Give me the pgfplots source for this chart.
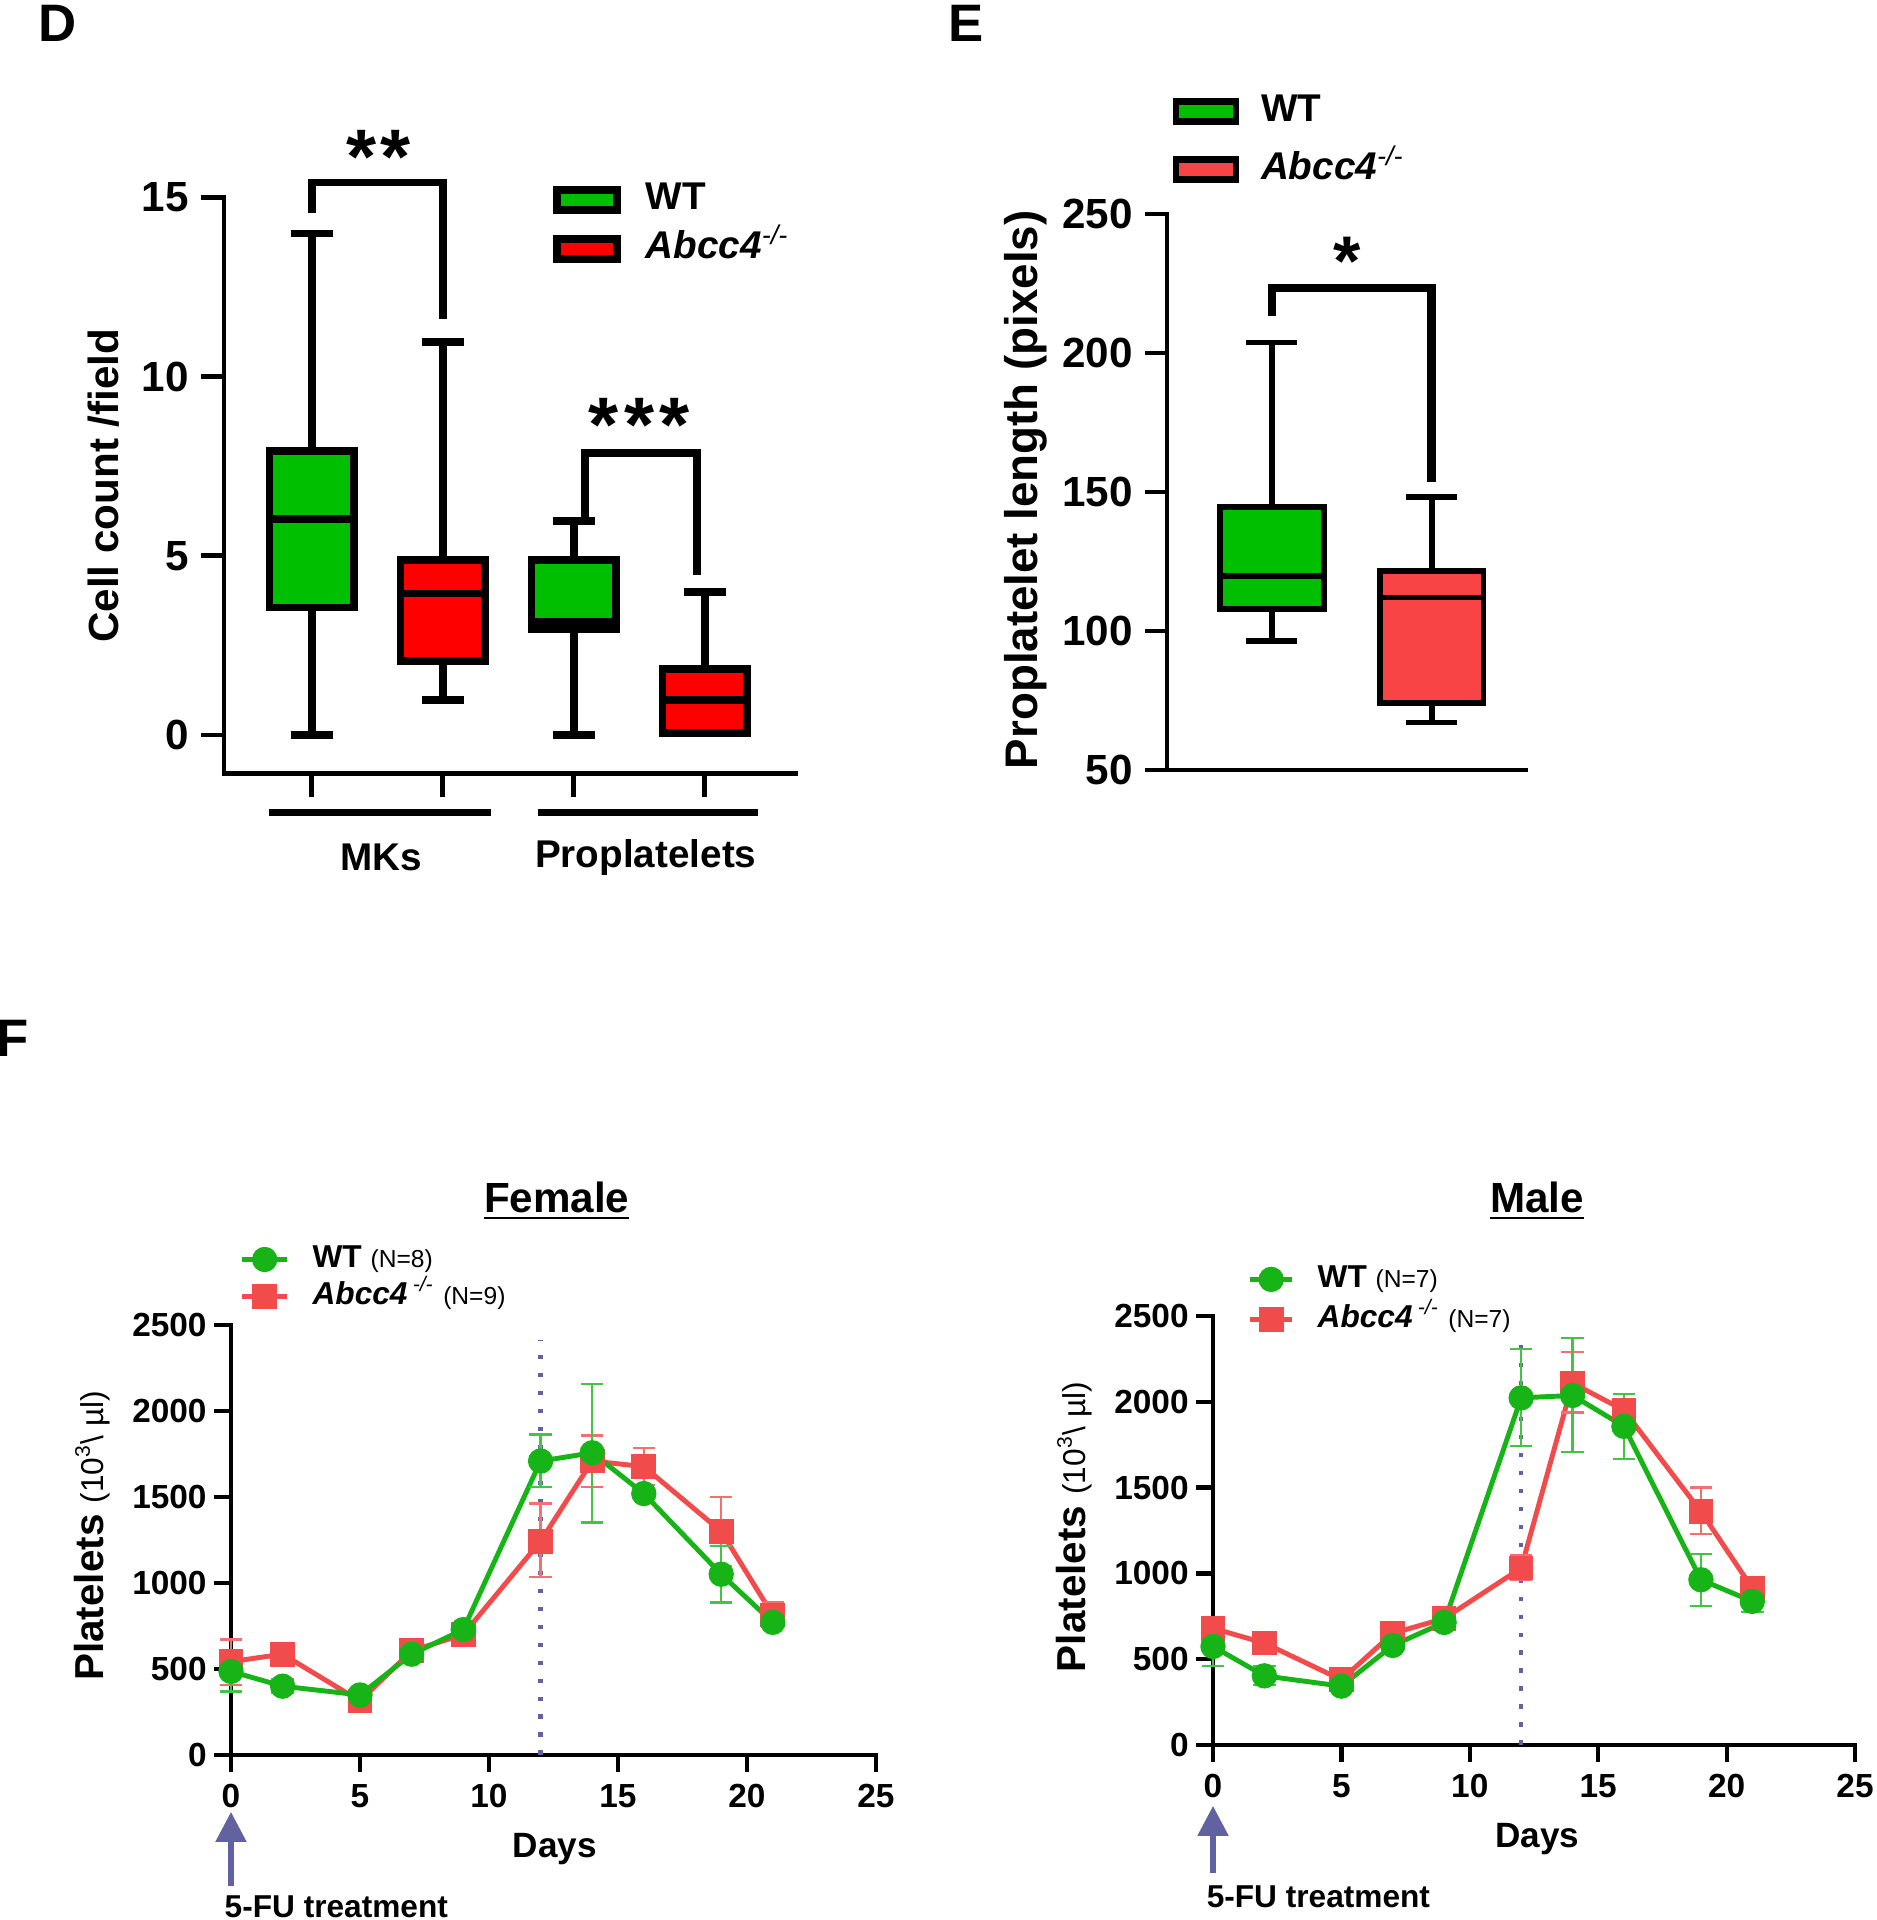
\documentclass[border=0pt]{standalone}
\usepackage{fontspec}
\setmainfont{Liberation Sans}
\usepackage{pgfplots}
\pgfplotsset{compat=1.18}
\usepgfplotslibrary{statistics}
\usetikzlibrary{arrows.meta}
\definecolor{dgreen}{HTML}{00BE00}
\definecolor{dred}{HTML}{FF0000}
\definecolor{ered}{HTML}{F84444}
\definecolor{fgreen}{HTML}{16B416}
\definecolor{fred}{HTML}{F24B4B}
\definecolor{slate}{HTML}{6262A0}
\newcommand{\fs}[1]{\fontsize{#1}{#1}\selectfont}
\newcommand{\ko}{\textit{Abcc4}\textsuperscript{\mdseries\itshape -/-}}
\newcommand{\kof}{\textit{Abcc4}\,\textsuperscript{\mdseries\itshape -/-}}
\pgfplotsset{
  /pgf/number format/assume math mode=true,
  /pgf/number format/1000 sep={},
  myaxis/.style={
    scale only axis, clip=false,
    axis x line=bottom, axis y line=left,
    axis line style={-, line width=1.4pt, line cap=rect},
    tick align=outside, major tick length=0.22cm,
    tick style={line width=1.4pt, black},
    boxplot/draw direction=y,
  },
}
\begin{document}
\begin{tikzpicture}
\useasboundingbox (0,0) rectangle (18.76cm,19.2cm);
\node[font=\fs{15}\bfseries] at (0.58cm,18.97cm) {D};
\node[font=\fs{15}\bfseries] at (9.66cm,18.97cm) {E};
\node[font=\fs{15}\bfseries] at (0.13cm,8.82cm) {F};

% ---------------- Panel D
\begin{axis}[myaxis,
  at={(2.24cm,11.463cm)}, anchor=south west,
  width=5.72cm, height=5.76cm,
  xmin=0.331, xmax=4.697, ymin=-1.08, ymax=15,
  xtick={1,2,3,4}, xticklabels={},
  ytick={0,5,10,15},
  major tick length=0.23cm,
  yticklabel style={font=\fs{12}\bfseries},
  ylabel={Cell count /field},
  ylabel style={font=\fs{12}\bfseries, at={(axis description cs:-0.21,0.5)}, anchor=center},
  boxplot/box extend=0.645, boxplot/whisker extend=0.32,
  legend style={draw=none, fill=none, at={(0.574,1.036)}, anchor=north west,
    font=\fs{11}\bfseries, inner sep=0pt, row sep=0.05cm,
    nodes={inner sep=0.02cm, text height=0.3cm, text depth=0.1cm},
    /tikz/every odd column/.append style={column sep=0.23cm}},
  legend cell align=left,
]
\addlegendimage{area legend, draw=black, fill=dgreen, line width=2.2pt}
\addlegendentry{WT}
\addlegendimage{area legend, draw=black, fill=dred, line width=2.2pt}
\addlegendentry{\ko}
\addplot[boxplot prepared={lower whisker=0, lower quartile=3.56, median=6.02, upper quartile=7.92, upper whisker=14.0, draw position=1}, draw=black, fill=dgreen, line width=2.2pt, line join=miter, forget plot] coordinates {};
\addplot[boxplot prepared={lower whisker=0.97, lower quartile=2.06, median=3.95, upper quartile=4.89, upper whisker=10.98, draw position=2}, draw=black, fill=dred, line width=2.2pt, line join=miter, forget plot] coordinates {};
\addplot[boxplot prepared={lower whisker=0, lower quartile=2.95, median=3.15, upper quartile=4.89, upper whisker=5.97, draw position=3}, draw=black, fill=dgreen, line width=2.2pt, line join=miter, forget plot] coordinates {};
\addplot[boxplot prepared={lower whisker=0.05, lower quartile=0.05, median=0.97, upper quartile=1.85, upper whisker=4.0, draw position=4}, draw=black, fill=dred, line width=2.2pt, line join=miter, forget plot] coordinates {};
\draw[line width=2.2pt, line join=miter] (axis cs:1,14.56) -- (axis cs:1,15.42) -- (axis cs:2,15.42) -- (axis cs:2,11.6);
\draw[line width=2.2pt, line join=miter] (axis cs:3.085,6.02) -- (axis cs:3.085,7.87) -- (axis cs:3.94,7.87) -- (axis cs:3.94,4.48);
\node[font=\fs{22}\bfseries] at (axis cs:1.51,16.15) {*\kern1pt*};
\node[font=\fs{22}\bfseries] at (axis cs:3.50,8.65) {*\kern1.5pt*\kern1.5pt*};
\draw[line width=2.2pt] (axis cs:0.678,-2.16) -- (axis cs:2.367,-2.16);
\draw[line width=2.2pt] (axis cs:2.725,-2.16) -- (axis cs:4.41,-2.16);
\node[font=\fs{11}\bfseries] at (axis cs:1.53,-3.42) {MKs};
\node[font=\fs{11}\bfseries] at (axis cs:3.55,-3.42) {Proplatelets};
\end{axis}

% ---------------- Panel E
\begin{axis}[myaxis,
  at={(11.67cm,11.50cm)}, anchor=south west,
  width=3.59cm, height=5.56cm,
  xmin=0.344, xmax=2.59, ymin=50, ymax=250,
  xtick=\empty, ytick={50,100,150,200,250},
  yticklabel style={font=\fs{12}\bfseries},
  ylabel={Proplatelet length (pixels)},
  ylabel style={font=\fs{13}\bfseries, at={(axis description cs:-0.393,0.504)}, anchor=center},
  boxplot/box extend=0.65, boxplot/whisker extend=0.32,
  legend style={draw=none, fill=none, at={(0.014,1.225)}, anchor=north west,
    font=\fs{11}\bfseries, inner sep=0pt, row sep=0.14cm,
    nodes={inner sep=0.02cm, text height=0.3cm, text depth=0.1cm},
    /tikz/every odd column/.append style={column sep=0.2cm}},
  legend cell align=left,
]
\addlegendimage{area legend, draw=black, fill=dgreen, line width=1.8pt}
\addlegendentry{WT}
\addlegendimage{area legend, draw=black, fill=ered, line width=1.8pt}
\addlegendentry{\ko}
\addplot[boxplot prepared={lower whisker=96.4, lower quartile=107.8, median=119.7, upper quartile=144.5, upper whisker=203.8, draw position=1}, draw=black, fill=dgreen, line width=1.6pt, line join=miter, forget plot] coordinates {};
\addplot[boxplot prepared={lower whisker=67.1, lower quartile=74.2, median=112, upper quartile=121.6, upper whisker=148.2, draw position=2}, draw=black, fill=ered, line width=1.6pt, line join=miter, forget plot] coordinates {};
\draw[line width=2.4pt, line join=miter] (axis cs:1,213.3) -- (axis cs:1,223.4) -- (axis cs:2,223.4) -- (axis cs:2,153.7);
\node[font=\fs{20}\bfseries] at (axis cs:1.47,233) {*};
\end{axis}

% ---------------- Panel F female
\begin{axis}[myaxis,
  at={(2.31cm,1.65cm)}, anchor=south west,
  width=6.45cm, height=4.30cm,
  axis line style={line width=1.2pt}, tick style={line width=1.2pt},
  major tick length=0.17cm,
  xmin=0, xmax=25, ymin=0, ymax=2500,
  xtick={0,5,...,25}, ytick={0,500,...,2500},
  ticklabel style={font=\fs{9.5}\bfseries},
  yticklabel style={xshift=0.05cm},
  title={\underline{Female}},
  title style={font=\fs{12}\bfseries, at={(axis description cs:0.505,1.239)}, anchor=center},
  xlabel={Days},
  xlabel style={font=\fs{10}\bfseries, at={(axis description cs:0.502,-0.219)}, anchor=center},
  ylabel={Platelets {\fs{9}\mdseries (10\textsuperscript{3}\textbackslash\ µl)}},
  ylabel style={font=\fs{11.5}\bfseries, at={(axis description cs:-0.2155,0.51)}, anchor=center},
  legend style={draw=none, fill=none, at={(0.0124,1.197)}, anchor=north west,
    font=\fs{9}\bfseries, inner sep=0pt, row sep=0cm,
    nodes={inner sep=0.03cm, text height=0.24cm, text depth=0.07cm},
    /tikz/every odd column/.append style={column sep=0.2cm}},
  legend cell align=left, reverse legend,
  legend image code/.code={\draw[mark repeat=2,mark phase=2,#1] plot coordinates {(0cm,0cm) (0.225cm,0cm) (0.45cm,0cm)};},
]
\addplot[slate, line width=1.3pt, dash pattern=on 0.045cm off 0.135cm, forget plot] coordinates {(12,0) (12,2410)};
\addplot[fred, line width=1.4pt, mark=square*, mark size=2.8pt, mark options={solid},
  error bars/.cd, y dir=both, y explicit,
  error bar style={line width=0.7pt, fred!80},
  error mark options={rotate=90, mark size=3.2pt, line width=0.7pt, fred!80}]
coordinates {
(0,543) += (0,128) -= (0,137)
(2,586) += (0,25) -= (0,25)
(5,314) += (0,20) -= (0,20)
(7,606) += (0,25) -= (0,25)
(9,700) += (0,20) -= (0,20)
(12,1243) += (0,220) -= (0,209)
(14,1709) += (0,148) -= (0,152)
(16,1677) += (0,109) -= (0,106)
(19,1300) += (0,200) -= (0,200)
(21,814) += (0,72) -= (0,57)
};
\addlegendentry{\kof\ {\fs{7}\mdseries (N=9)}}
\addplot[fgreen, line width=1.4pt, mark=*, mark size=2.9pt, mark options={solid},
  error bars/.cd, y dir=both, y explicit,
  error bar style={line width=0.7pt, fgreen!80},
  error mark options={rotate=90, mark size=3.2pt, line width=0.7pt, fgreen!80}]
coordinates {
(0,486) += (0,114) -= (0,116)
(2,400) += (0,40) -= (0,40)
(5,349) += (0,20) -= (0,20)
(7,586) += (0,25) -= (0,25)
(9,729) += (0,20) -= (0,20)
(12,1709) += (0,154) -= (0,152)
(14,1757) += (0,400) -= (0,406)
(16,1520) += (0,25) -= (0,25)
(19,1051) += (0,163) -= (0,165)
(21,771) += (0,25) -= (0,25)
};
\addlegendentry{WT {\fs{7}\mdseries (N=8)}}
\draw[slate, line width=1.5pt, -{Triangle[width=0.3cm, length=0.3cm]}] (axis cs:0,-762) -- (axis cs:0,-331);
\node[font=\fs{9}\bfseries, anchor=west, inner sep=0pt] at (axis cs:-0.27,-880) {5-FU treatment};
\end{axis}

% ---------------- Panel F male
\begin{axis}[myaxis,
  at={(12.13cm,1.75cm)}, anchor=south west,
  width=6.42cm, height=4.29cm,
  axis line style={line width=1.2pt}, tick style={line width=1.2pt},
  major tick length=0.17cm,
  xmin=0, xmax=25, ymin=0, ymax=2500,
  xtick={0,5,...,25}, ytick={0,500,...,2500},
  ticklabel style={font=\fs{9.5}\bfseries},
  yticklabel style={xshift=0.05cm},
  title={\underline{Male}},
  title style={font=\fs{12}\bfseries, at={(axis description cs:0.505,1.219)}, anchor=center},
  xlabel={Days},
  xlabel style={font=\fs{10}\bfseries, at={(axis description cs:0.505,-0.219)}, anchor=center},
  ylabel={Platelets {\fs{9}\mdseries (10\textsuperscript{3}\textbackslash\ µl)}},
  ylabel style={font=\fs{11.5}\bfseries, at={(axis description cs:-0.2165,0.508)}, anchor=center},
  legend style={draw=none, fill=none, at={(0.053,1.13)}, anchor=north west,
    font=\fs{9}\bfseries, inner sep=0pt, row sep=0.03cm,
    nodes={inner sep=0.03cm, text height=0.24cm, text depth=0.07cm},
    /tikz/every odd column/.append style={column sep=0.2cm}},
  legend cell align=left, reverse legend,
  legend image code/.code={\draw[mark repeat=2,mark phase=2,#1] plot coordinates {(0cm,0cm) (0.21cm,0cm) (0.42cm,0cm)};},
]
\addplot[slate, line width=1.3pt, dash pattern=on 0.045cm off 0.135cm, forget plot] coordinates {(12,0) (12,2400)};
\addplot[fred, line width=1.4pt, mark=square*, mark size=2.8pt, mark options={solid},
  error bars/.cd, y dir=both, y explicit,
  error bar style={line width=0.7pt, fred!80},
  error mark options={rotate=90, mark size=3.2pt, line width=0.7pt, fred!80}]
coordinates {
(0,680) += (0,57) -= (0,57)
(2,594) += (0,20) -= (0,20)
(5,380) += (0,20) -= (0,20)
(7,651) += (0,20) -= (0,20)
(9,737) += (0,20) -= (0,20)
(12,1031) += (0,72) -= (0,71)
(14,2109) += (0,180) -= (0,172)
(16,1951) += (0,95) -= (0,100)
(19,1360) += (0,140) -= (0,131)
(21,914) += (0,37) -= (0,34)
};
\addlegendentry{\kof\ {\fs{7}\mdseries (N=7)}}
\addplot[fgreen, line width=1.4pt, mark=*, mark size=2.9pt, mark options={solid},
  error bars/.cd, y dir=both, y explicit,
  error bar style={line width=0.7pt, fgreen!80},
  error mark options={rotate=90, mark size=3.2pt, line width=0.7pt, fgreen!80}]
coordinates {
(0,574) += (0,126) -= (0,114)
(2,403) += (0,57) -= (0,52)
(5,343) += (0,20) -= (0,20)
(7,580) += (0,20) -= (0,20)
(9,714) += (0,20) -= (0,20)
(12,2023) += (0,286) -= (0,280)
(14,2037) += (0,334) -= (0,328)
(16,1857) += (0,189) -= (0,191)
(19,963) += (0,151) -= (0,154)
(21,837) += (0,72) -= (0,63)
};
\addlegendentry{WT {\fs{7}\mdseries (N=7)}}
\draw[slate, line width=1.5pt, -{Triangle[width=0.3cm, length=0.3cm]}] (axis cs:0,-746) -- (axis cs:0,-355);
\node[font=\fs{9}\bfseries, anchor=west, inner sep=0pt] at (axis cs:-0.27,-885) {5-FU treatment};
\end{axis}
\end{tikzpicture}
\end{document}
